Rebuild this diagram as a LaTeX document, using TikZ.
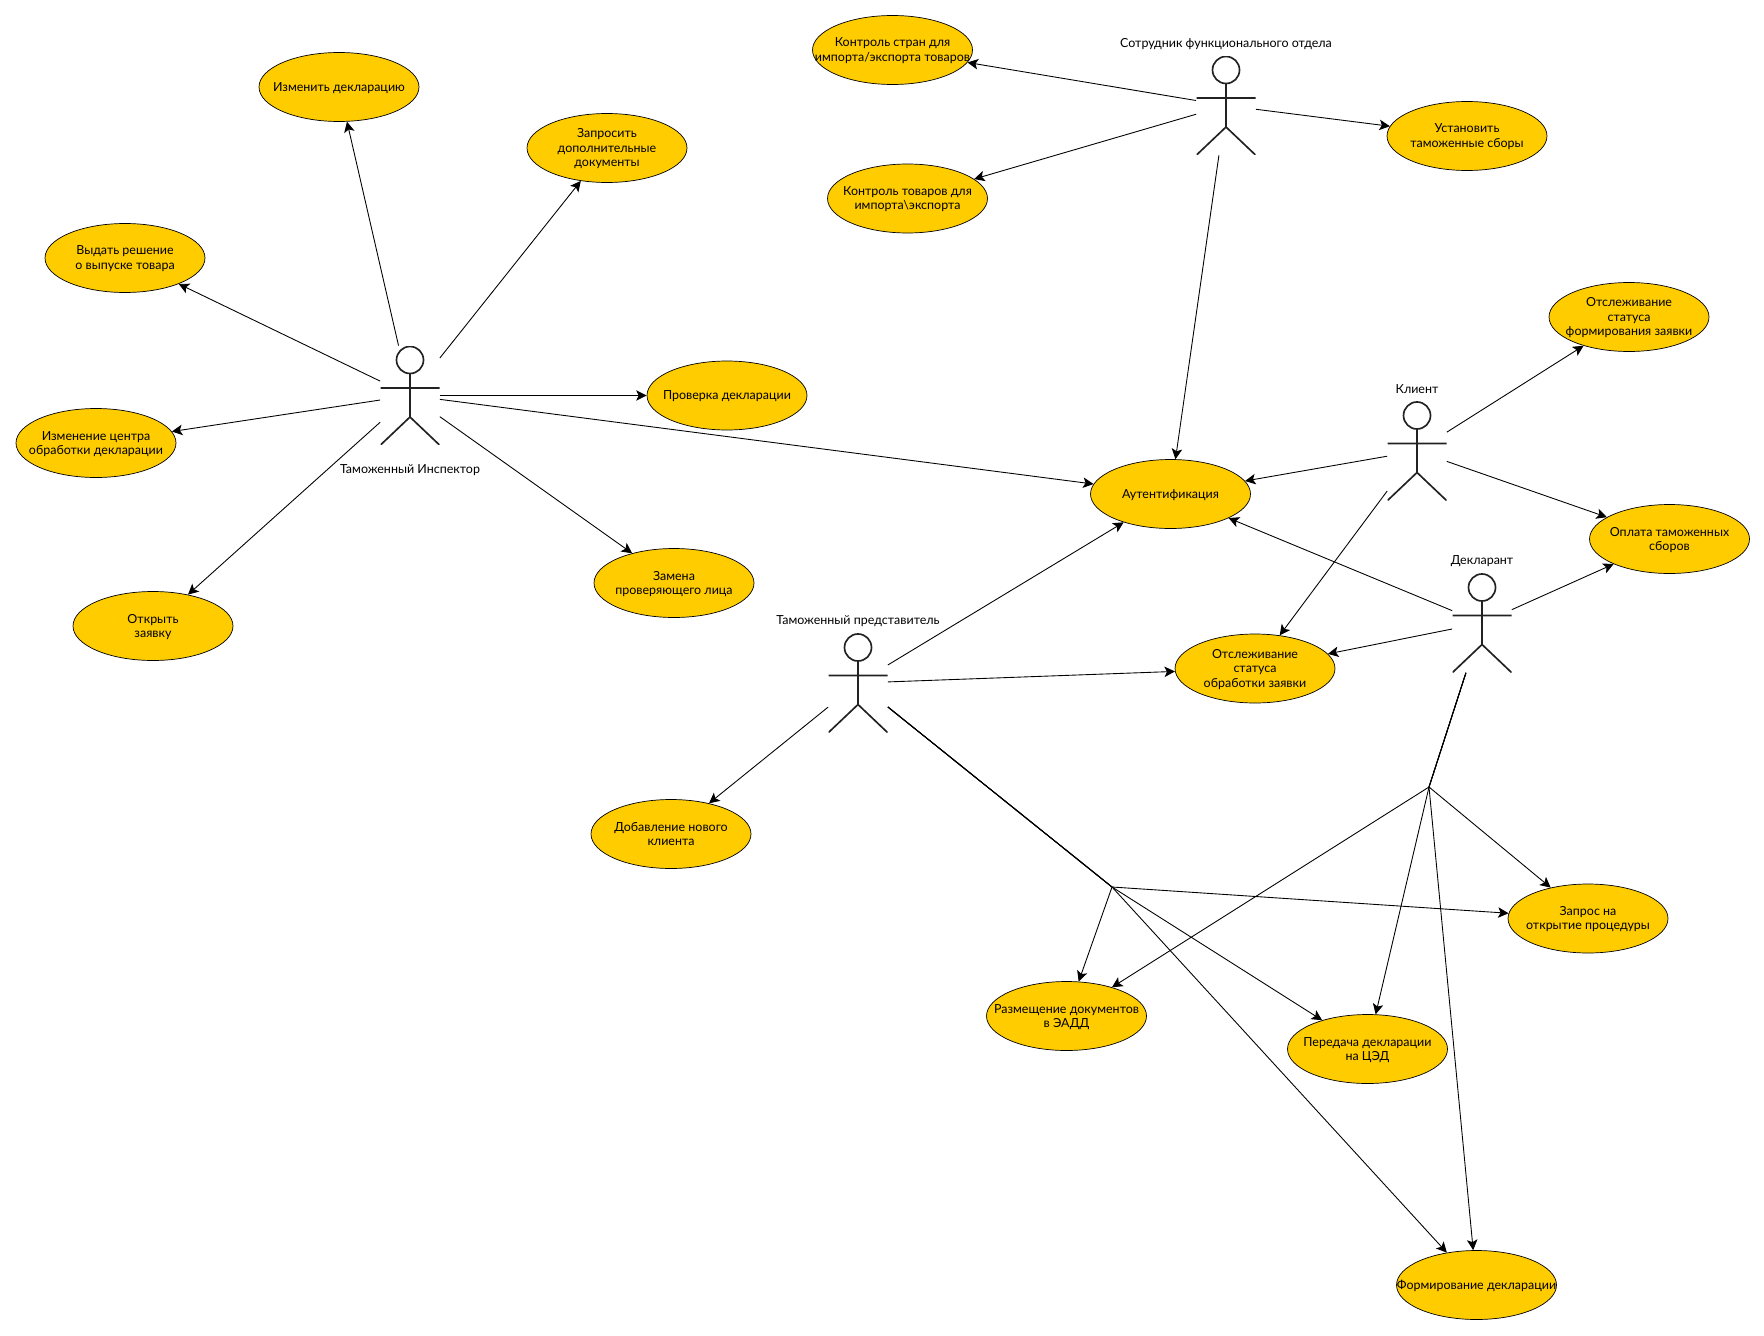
\documentclass[tikz,border=0pt]{standalone}
\usepackage{fontspec}
\setmainfont{Lato}
\usepackage{xcolor}
\definecolor{casefill}{HTML}{FFCC00}
\definecolor{actorline}{HTML}{222222}
\usetikzlibrary{arrows.meta, shapes.geometric}
\newcommand{\casetext}[1]{\raisebox{-5.0pt}{\smash{\makebox[0pt]{\begin{tabular}{@{}c@{}}#1\end{tabular}}}}}

\begin{document}
\begin{tikzpicture}[
  x=0.02cm, y=-0.02cm,
  font=\fontsize{7.1}{8.2}\selectfont,
  usecase/.style={
    ellipse, draw=black, line width=0.4pt, fill=casefill, inner sep=0pt,
    minimum width=3.2cm, minimum height=1.38cm
  },
  actor/.style={
    inner sep=0pt, minimum width=1.18cm, minimum height=1.98cm,
    path picture={
      \coordinate (pc) at (path picture bounding box.center);
      \draw[actorline, line width=0.95pt]
        ([shift={(0,-35.5)}]pc) circle[radius=13.5]
        ([shift={(0,-21.5)}]pc) -- ([shift={(0,21.5)}]pc)
        ([shift={(-29.5,-7.5)}]pc) -- ([shift={(29.5,-7.5)}]pc)
        ([shift={(-29.5,49.5)}]pc) -- ([shift={(0,21.5)}]pc) -- ([shift={(29.5,49.5)}]pc);
    }
  },
  flow/.style={-{Stealth[length=2.1mm, width=2.1mm, inset=0.5mm]}, black, line width=0.5pt}
]
  \useasboundingbox (0,0) rectangle (1764,1335);

  % actors
  \node[actor] (inspector) at (410,395.5) {};
  \node (inspectorname) at (410,470.5) {Таможенный Инспектор};
  \node[actor] (staff) at (1226,105.5) {};
  \node (staffname) at (1226,44) {Сотрудник функционального отдела};
  \node[actor] (client) at (1417,451) {};
  \node (clientname) at (1417,389) {Клиент};
  \node[actor] (declarant) at (1482,623) {};
  \node (declarantname) at (1482,561) {Декларант};
  \node[actor] (agent) at (858,683) {};
  \node (agentname) at (858,621) {Таможенный представитель};

  % use cases
  \node[usecase] (edit) at (339,87) {\casetext{Изменить декларацию}};
  \node[usecase] (request) at (607,148) {\casetext{Запросить\\дополнительные\\документы}};
  \node[usecase] (release) at (125,258) {\casetext{Выдать решение\\о выпуске товара}};
  \node[usecase] (center) at (96,443) {\casetext{Изменение центра\\обработки декларации}};
  \node[usecase] (check) at (727,395.5) {\casetext{Проверка декларации}};
  \node[usecase] (open) at (153,626) {\casetext{Открыть\\заявку}};
  \node[usecase] (replace) at (674,583) {\casetext{Замена\\проверяющего лица}};
  \node[usecase] (auth) at (1170.5,494) {\casetext{Аутентификация}};
  \node[usecase] (countries) at (892.5,50) {\casetext{Контроль стран для\\импорта/экспорта товаров}};
  \node[usecase] (goods) at (907.5,198.5) {\casetext{Контроль товаров для\\импорта\textbackslash экспорта}};
  \node[usecase] (fees) at (1467,136) {\casetext{Установить\\таможенные сборы}};
  \node[usecase] (trackform) at (1629,317) {\casetext{Отслеживание\\статуса\\формирования заявки}};
  \node[usecase] (pay) at (1669.5,539) {\casetext{Оплата таможенных\\сборов}};
  \node[usecase] (trackproc) at (1255,668.5) {\casetext{Отслеживание\\статуса\\обработки заявки}};
  \node[usecase] (newclient) at (671,834) {\casetext{Добавление нового\\клиента}};
  \node[usecase] (procedure) at (1588,918.5) {\casetext{Запрос на\\открытие процедуры}};
  \node[usecase] (upload) at (1066.5,1016) {\casetext{Размещение документов\\в ЭАДД}};
  \node[usecase] (transfer) at (1367.5,1049) {\casetext{Передача декларации\\на ЦЭД}};
  \node[usecase] (compose) at (1476.5,1285) {\casetext{Формирование декларации}};

  \coordinate (agentfork) at (1112,887);
  \coordinate (declfork) at (1429,787);

  \draw[flow] (inspector) -- (edit);
  \draw[flow] (inspector) -- (request);
  \draw[flow] (inspector) -- (release);
  \draw[flow] (inspector) -- (center);
  \draw[flow] (inspector) -- (check);
  \draw[flow] (inspector) -- (open);
  \draw[flow] (inspector) -- (replace);
  \draw[flow] (inspector) -- (auth);

  \draw[flow] (staff) -- (countries);
  \draw[flow] (staff) -- (goods);
  \draw[flow] (staff) -- (fees);
  \draw[flow] (staff) -- (auth);

  \draw[flow] (client) -- (auth);
  \draw[flow] (client) -- (trackform);
  \draw[flow] (client) -- (pay);
  \draw[flow] (client) -- (trackproc);

  \draw[flow] (declarant) -- (auth);
  \draw[flow] (declarant) -- (pay);
  \draw[flow] (declarant) -- (trackproc);
  \draw[flow] (declarant) -- (declfork) -- (upload);
  \draw[flow] (declarant) -- (declfork) -- (transfer);
  \draw[flow] (declarant) -- (declfork) -- (procedure);
  \draw[flow] (declarant) -- (declfork) -- (compose);

  \draw[flow] (agent) -- (auth);
  \draw[flow] (agent) -- (trackproc);
  \draw[flow] (agent) -- (newclient);
  \draw[flow] (agent) -- (agentfork) -- (upload);
  \draw[flow] (agent) -- (agentfork) -- (transfer);
  \draw[flow] (agent) -- (agentfork) -- (procedure);
  \draw[flow] (agent) -- (agentfork) -- (compose);
\end{tikzpicture}
\end{document}
